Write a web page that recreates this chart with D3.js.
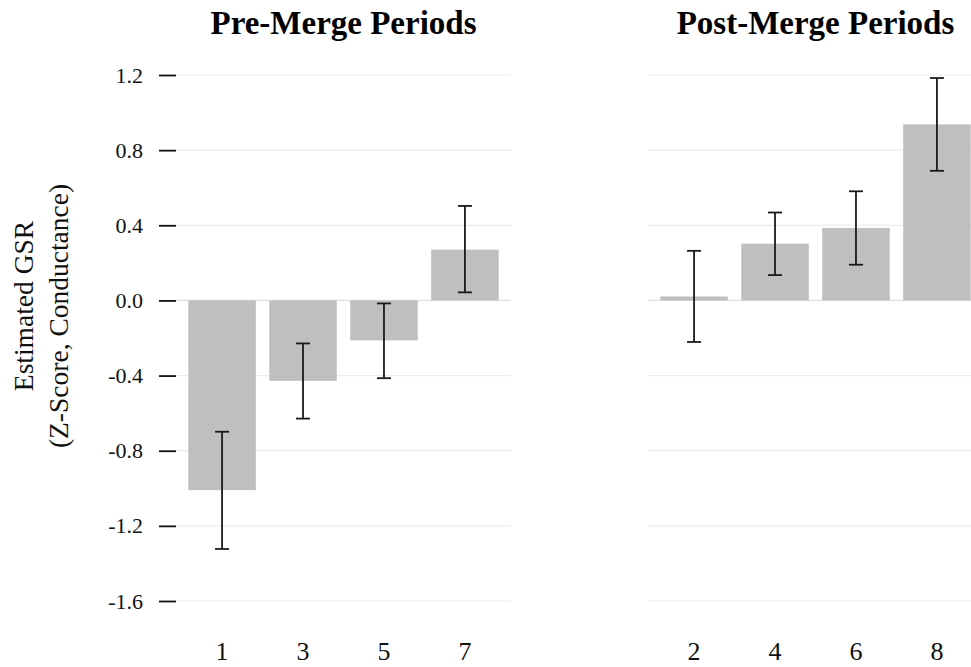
<!DOCTYPE html>
<html><head><meta charset="utf-8">
<script src="https://cdn.jsdelivr.net/npm/d3@7"></script>
<style>body{margin:0;background:#fff;} text{font-family:"Liberation Serif","Times New Roman",Times,serif;}</style>
</head><body>
<svg id="c" width="971" height="667"></svg>
<script>
const preCategories = ["1","3","5","7"];
const preValues = [-1.01, -0.428, -0.213, 0.270];
const preLower = [-1.323, -0.629, -0.414, 0.043];
const preUpper = [-0.699, -0.229, -0.016, 0.503];

const postCategories = ["2","4","6","8"];
const postValues = [0.021, 0.302, 0.386, 0.937];
const postLower = [-0.221, 0.135, 0.190, 0.690];
const postUpper = [0.264, 0.468, 0.581, 1.184];

const yTicks = [-1.6, -1.2, -0.8, -0.4, 0.0, 0.4, 0.8, 1.2];
const panelTitles = ["Pre-Merge Periods", "Post-Merge Periods"];
const yTitle = ["Estimated GSR", "(Z-Score, Conductance)"];

const svg = d3.select("#c");
const y = d3.scaleLinear().domain([-1.6, 1.2]).range([601, 75]);

const panels = [
  {x0: 176, x1: 511, cats: preCategories, vals: preValues, lo: preLower, hi: preUpper, title: panelTitles[0], axis: true},
  {x0: 648, x1: 983, cats: postCategories, vals: postValues, lo: postLower, hi: postUpper, title: panelTitles[1], axis: false}
];

const fmt = d => d3.format(".1f")(d).replace("\u2212", "-");

panels.forEach(p => {
  const x = d3.scaleBand().domain(p.cats).range([p.x0, p.x1]).paddingInner(0.166).paddingOuter(0.152);
  const g = svg.append("g");
  // gridlines
  g.selectAll("line.grid").data(yTicks).enter().append("line")
    .attr("x1", p.x0).attr("x2", p.x1)
    .attr("y1", d => y(d)).attr("y2", d => y(d))
    .attr("stroke", d => d === 0 ? "#dedede" : "#ececec").attr("stroke-width", 1.2);
  // bars
  g.selectAll("rect").data(p.cats).enter().append("rect")
    .attr("x", d => x(d)).attr("width", x.bandwidth())
    .attr("y", (d, i) => Math.min(y(p.vals[i]), y(0)))
    .attr("height", (d, i) => Math.abs(y(p.vals[i]) - y(0)))
    .attr("fill", "#bfbfbf");
  // error bars
  const capW = 14;
  p.cats.forEach((c, i) => {
    const cx = x(c) + x.bandwidth() / 2;
    const eg = g.append("g").attr("stroke", "#1a1a1a").attr("stroke-width", 1.8);
    eg.append("line").attr("x1", cx).attr("x2", cx).attr("y1", y(p.hi[i])).attr("y2", y(p.lo[i]));
    eg.append("line").attr("x1", cx - capW/2).attr("x2", cx + capW/2).attr("y1", y(p.hi[i])).attr("y2", y(p.hi[i]));
    eg.append("line").attr("x1", cx - capW/2).attr("x2", cx + capW/2).attr("y1", y(p.lo[i])).attr("y2", y(p.lo[i]));
  });
  // x axis labels
  const xa = g.append("g").attr("transform", "translate(0,660)")
    .call(d3.axisBottom(x).tickSize(0).tickPadding(0));
  xa.select(".domain").remove();
  xa.selectAll("text").attr("font-size", 26).attr("fill", "#111").attr("dy", "0")
    .style("font-family", '"Liberation Serif", "Times New Roman", serif');
  // title
  svg.append("text").attr("x", (p.x0 + p.x1) / 2).attr("y", 34)
    .attr("text-anchor", "middle").attr("font-size", 33).attr("font-weight", "bold")
    .attr("fill", "#000").text(p.title);
  if (p.axis) {
    const ya = svg.append("g").attr("transform", `translate(${p.x0},0)`)
      .call(d3.axisLeft(y).tickValues(yTicks).tickFormat(fmt).tickSize(17).tickPadding(16));
    ya.select(".domain").remove();
    ya.selectAll("line").attr("stroke", "#111").attr("stroke-width", 1.8);
    ya.selectAll("text").attr("font-size", 22).attr("fill", "#111")
      .style("font-family", '"Liberation Serif", "Times New Roman", serif');
  }
});

// y-axis title
const yt = svg.append("text").attr("transform", "rotate(-90)")
  .attr("text-anchor", "middle").attr("font-size", 27.5).attr("fill", "#111");
yt.append("tspan").attr("x", -306).attr("y", 33).text(yTitle[0]);
yt.append("tspan").attr("x", -316).attr("y", 68).text(yTitle[1]);
</script>
</body></html>
